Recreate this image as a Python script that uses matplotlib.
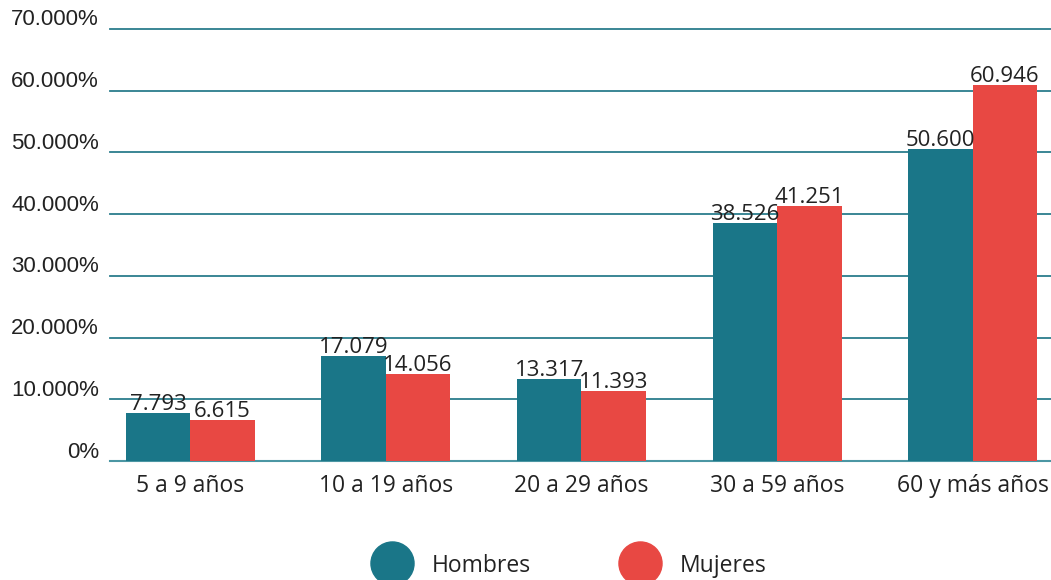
import matplotlib.pyplot as plt
from matplotlib.lines import Line2D
import matplotlib.transforms as mtransforms
import numpy as np

# data
categorias = ['5 a 9 años', '10 a 19 años', '20 a 29 años', '30 a 59 años', '60 y más años']
hombres = [7.793, 17.079, 13.317, 38.526, 50.600]
mujeres = [6.615, 14.056, 11.393, 41.251, 60.946]
yticks = [0, 10, 20, 30, 40, 50, 60, 70]
ytick_labels = ['0%', '10.000%', '20.000%', '30.000%', '40.000%', '50.000%', '60.000%', '70.000%']

teal = '#1a7688'
red = '#e84843'
grid_color = '#2b7d8c'
num_font = 'Liberation Sans'
txt_font = 'Open Sans'

fig = plt.figure(figsize=(10.51, 5.80), dpi=100)
ax = fig.add_axes([0.1047, 0.205, 0.8953, 0.745])

x = np.arange(len(categorias))
w = 0.33
b1 = ax.bar(x - w / 2, hombres, w, color=teal, zorder=3)
b2 = ax.bar(x + w / 2, mujeres, w, color=red, zorder=3)

for bars, vals in ((b1, hombres), (b2, mujeres)):
    for rect, v in zip(bars, vals):
        ax.text(rect.get_x() + rect.get_width() / 2, rect.get_height() - 0.3,
                f'{v:.3f}', ha='center', va='bottom', fontsize=16,
                family=txt_font, color='#222222', zorder=4)

ax.set_ylim(0, 70)
ax.set_xlim(-0.41, 4.40)
ax.set_yticks(yticks)
ax.set_yticklabels(ytick_labels, family=num_font, fontsize=16, color='#222222', va='center')
ax.set_xticks(x)
ax.set_xticklabels(categorias, family=txt_font, fontsize=16.5, color='#222222')
ax.tick_params(axis='y', length=0, pad=8)
ax.tick_params(axis='x', length=0, pad=9)
ax.yaxis.grid(True, color=grid_color, linewidth=1.3, zorder=0)
for gl in ax.yaxis.get_gridlines():
    gl.set_clip_on(False)
for s in ['top', 'right', 'left']:
    ax.spines[s].set_visible(False)
ax.spines['bottom'].set_color('#4b96a3')
ax.spines['bottom'].set_linewidth(1.5)

# y tick labels sit a bit above their gridlines
offset = mtransforms.ScaledTranslation(0, 6.5 / 72, fig.dpi_scale_trans)
for lab in ax.get_yticklabels():
    lab.set_transform(lab.get_transform() + offset)

handles = [Line2D([], [], marker='o', linestyle='', markersize=31, color=teal, label='Hombres'),
           Line2D([], [], marker='o', linestyle='', markersize=31, color=red, label='Mujeres')]
leg = fig.legend(handles=handles, loc='center', bbox_to_anchor=(0.540, 0.025), ncol=2,
                 frameon=False, prop={'family': txt_font, 'size': 16.5},
                 handletextpad=0.75, columnspacing=3.75)
for t in leg.get_texts():
    t.set_color('#222222')

fig.savefig('out.png', dpi=100)
